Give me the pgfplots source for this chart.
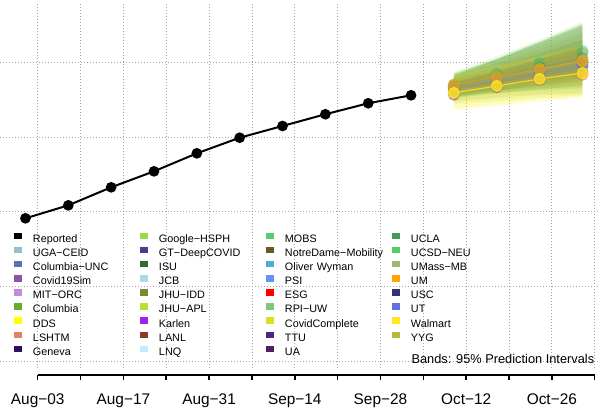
\documentclass[border=0pt]{standalone}
\usepackage{pgfplots}
\pgfplotsset{compat=1.18}
\usepackage{fontspec}
\setmainfont{Liberation Sans}

% model colours
\definecolor{cUGA}{HTML}{96BECD}
\definecolor{cCUNC}{HTML}{5470B0}
\definecolor{cCSim}{HTML}{8B55A5}
\definecolor{cMIT}{HTML}{C08AE0}
\definecolor{cCol}{HTML}{6BAA30}
\definecolor{cDDS}{HTML}{FFFF00}
\definecolor{cLSH}{HTML}{E0826A}
\definecolor{cGen}{HTML}{2A1060}
\definecolor{cGoo}{HTML}{99DD44}
\definecolor{cGT}{HTML}{404099}
\definecolor{cISU}{HTML}{2E6B35}
\definecolor{cJCB}{HTML}{ADD8E6}
\definecolor{cIDD}{HTML}{7A8A30}
\definecolor{cAPL}{HTML}{BBDD33}
\definecolor{cKar}{HTML}{A020F0}
\definecolor{cLANL}{HTML}{8B3A2A}
\definecolor{cLNQ}{HTML}{C0EEFF}
\definecolor{cMOBS}{HTML}{55CC77}
\definecolor{cND}{HTML}{6B5A20}
\definecolor{cOW}{HTML}{4AAED8}
\definecolor{cPSI}{HTML}{6495ED}
\definecolor{cESG}{HTML}{FF0000}
\definecolor{cRPI}{HTML}{7DC87D}
\definecolor{cCC}{HTML}{DDDD22}
\definecolor{cTTU}{HTML}{4A2A80}
\definecolor{cUA}{HTML}{502060}
\definecolor{cUCLA}{HTML}{449955}
\definecolor{cUCSD}{HTML}{55CC66}
\definecolor{cUMB}{HTML}{A0B870}
\definecolor{cUM}{HTML}{FFA500}
\definecolor{cUSC}{HTML}{2F3570}
\definecolor{cUT}{HTML}{6470E0}
\definecolor{cWal}{HTML}{FFE81F}
\definecolor{cYYG}{HTML}{B8B840}

% band = hi forward, lo backward; med = median line
\newcommand{\band}[2]{\addplot[draw=none, fill=#1, fill opacity=0.16, forget plot] coordinates {#2} --cycle;}
\newcommand{\med}[3][0.1]{\addplot[color=#2, line width=1.2pt, opacity=#1, mark=*, mark size=5.5pt, forget plot] coordinates {#3};}

\begin{document}
\begin{tikzpicture}
\useasboundingbox (0,0) rectangle (600pt,410pt);

\begin{axis}[
  at={(0pt,42pt)}, anchor=south west,
  scale only axis, width=600pt, height=364pt,
  xmin=-6.159, xmax=91.87, ymin=-0.0937, ymax=4.779,
  xtick={0,7,...,91}, ytick={0,1,2,3,4},
  xticklabels={}, yticklabels={},
  axis line style={draw=none}, major tick length=0pt,
  grid=major,
  grid style={gray!70, line width=0.7pt, dash pattern=on 0.8pt off 2.2pt},
  legend columns=4,
  legend cell align=left,
  legend image code/.code={\fill[#1, draw=none] (0pt,0.3pt) rectangle (8.3pt,6.8pt);},
  legend style={
    draw=none, fill=none, inner sep=0pt, outer sep=0pt,
    at={(0.02333,0.372)}, anchor=north west,
    font=\fontsize{10.8}{12}\selectfont,
    nodes={inner sep=0pt, text height=7.5pt, text depth=2pt, text width=107pt, align=left},
    row sep=2.6pt,
    /tikz/every odd column/.append style={column sep=10.7pt},
    /tikz/every even column/.append style={column sep=0pt},
  },
]

% reported
\addplot[black, line width=2pt, mark=*, mark size=4.3pt, forget plot] coordinates {
 (-2,1.910) (5,2.084) (12,2.325) (19,2.539) (26,2.780)
 (33,2.989) (40,3.146) (47,3.303) (54,3.450) (61,3.557)};

% forecasts
\band{cUGA}{(68,3.74)(75,3.86)(82,4.00)(89,4.14)(89,3.76)(82,3.70)(75,3.64)(68,3.56)}
\med{cUGA}{(68,3.65)(75,3.75)(82,3.85)(89,3.95)}
\band{cCUNC}{(68,3.72)(75,3.86)(82,4.00)(89,4.14)(89,3.78)(82,3.72)(75,3.66)(68,3.60)}
\med{cCUNC}{(68,3.66)(75,3.78)(82,3.90)(89,4.02)}
\band{cCSim}{(68,3.60)(75,3.72)(82,3.84)(89,3.96)(89,3.76)(82,3.69)(75,3.62)(68,3.54)}
\med[0.45]{cCSim}{(68,3.57)(75,3.67)(82,3.77)(89,3.87)}
\band{cMIT}{(68,3.68)(75,3.81)(82,3.94)(89,4.07)(89,3.81)(82,3.74)(75,3.67)(68,3.60)}
\med{cMIT}{(68,3.64)(75,3.74)(82,3.84)(89,3.94)}
\band{cCol}{(68,3.84)(75,4.04)(82,4.26)(89,4.49)(89,3.66)(82,3.63)(75,3.58)(68,3.52)}
\med{cCol}{(68,3.69)(75,3.82)(82,3.96)(89,4.10)}
\band{cDDS}{(68,3.84)(75,3.98)(82,4.14)(89,4.32)(89,3.54)(82,3.50)(75,3.44)(68,3.38)}
\med{cDDS}{(68,3.62)(75,3.72)(82,3.82)(89,3.92)}
\band{cLSH}{(68,3.66)(75,3.76)(82,3.86)(89,3.96)(89,3.70)(82,3.66)(75,3.62)(68,3.58)}
\med[0.45]{cLSH}{(68,3.62)(75,3.70)(82,3.77)(89,3.83)}
\band{cGen}{(68,3.59)(75,3.70)(82,3.81)(89,3.92)(89,3.78)(82,3.70)(75,3.61)(68,3.53)}
\med{cGen}{(68,3.56)(75,3.66)(82,3.76)(89,3.86)}
\band{cGoo}{(68,3.87)(75,4.08)(82,4.30)(89,4.54)(89,3.80)(82,3.74)(75,3.66)(68,3.58)}
\med{cGoo}{(68,3.71)(75,3.86)(82,4.00)(89,4.12)}
\band{cGT}{(68,3.67)(75,3.79)(82,3.91)(89,4.03)(89,3.83)(82,3.76)(75,3.68)(68,3.61)}
\med{cGT}{(68,3.64)(75,3.74)(82,3.84)(89,3.93)}
\band{cISU}{(68,3.76)(75,3.90)(82,4.04)(89,4.20)(89,3.80)(82,3.73)(75,3.66)(68,3.57)}
\med{cISU}{(68,3.66)(75,3.77)(82,3.88)(89,3.99)}
\band{cIDD}{(68,3.82)(75,3.99)(82,4.18)(89,4.38)(89,3.68)(82,3.64)(75,3.59)(68,3.53)}
\med{cIDD}{(68,3.68)(75,3.80)(82,3.92)(89,4.04)}
\band{cAPL}{(68,3.86)(75,4.03)(82,4.22)(89,4.40)(89,3.56)(82,3.52)(75,3.48)(68,3.44)}
\med{cAPL}{(68,3.65)(75,3.76)(82,3.88)(89,4.00)}
\band{cKar}{(68,3.69)(75,3.81)(82,3.94)(89,4.07)(89,3.84)(82,3.77)(75,3.70)(68,3.63)}
\med{cKar}{(68,3.66)(75,3.76)(82,3.86)(89,3.96)}
\band{cLANL}{(68,3.70)(75,3.84)(82,3.98)(89,4.13)(89,3.87)(82,3.80)(75,3.72)(68,3.64)}
\med{cLANL}{(68,3.67)(75,3.78)(82,3.89)(89,4.00)}
\band{cMOBS}{(68,3.82)(75,4.04)(82,4.26)(89,4.48)(89,3.88)(82,3.80)(75,3.70)(68,3.60)}
\med[0.45]{cMOBS}{(68,3.70)(75,3.85)(82,4.00)(89,4.15)}
\band{cND}{(68,3.82)(75,4.04)(82,4.27)(89,4.50)(89,3.74)(82,3.68)(75,3.62)(68,3.56)}
\med{cND}{(68,3.69)(75,3.83)(82,3.98)(89,4.12)}
\band{cOW}{(68,3.70)(75,3.83)(82,3.96)(89,4.08)(89,3.86)(82,3.78)(75,3.70)(68,3.62)}
\med{cOW}{(68,3.66)(75,3.77)(82,3.87)(89,3.97)}
\band{cPSI}{(68,3.78)(75,3.95)(82,4.12)(89,4.30)(89,3.76)(82,3.70)(75,3.63)(68,3.56)}
\med{cPSI}{(68,3.67)(75,3.79)(82,3.91)(89,4.03)}
\band{cESG}{(68,3.65)(75,3.75)(82,3.84)(89,3.93)(89,3.81)(82,3.75)(75,3.68)(68,3.61)}
\med{cESG}{(68,3.63)(75,3.72)(82,3.80)(89,3.87)}
\band{cRPI}{(68,3.79)(75,3.94)(82,4.10)(89,4.28)(89,3.72)(82,3.68)(75,3.62)(68,3.55)}
\med{cRPI}{(68,3.67)(75,3.78)(82,3.89)(89,4.00)}
\band{cCC}{(68,3.80)(75,3.94)(82,4.09)(89,4.25)(89,3.60)(82,3.57)(75,3.53)(68,3.48)}
\med{cCC}{(68,3.64)(75,3.74)(82,3.84)(89,3.94)}
\band{cUCLA}{(68,3.78)(75,3.94)(82,4.11)(89,4.30)(89,3.68)(82,3.64)(75,3.60)(68,3.55)}
\med{cUCLA}{(68,3.66)(75,3.76)(82,3.86)(89,3.96)}
\band{cUCSD}{(68,3.85)(75,4.05)(82,4.28)(89,4.52)(89,3.64)(82,3.62)(75,3.58)(68,3.52)}
\med{cUCSD}{(68,3.68)(75,3.81)(82,3.94)(89,4.06)}
\band{cUMB}{(68,3.84)(75,4.03)(82,4.24)(89,4.45)(89,3.58)(82,3.56)(75,3.52)(68,3.47)}
\med{cUMB}{(68,3.67)(75,3.79)(82,3.91)(89,4.03)}
\band{cUM}{(68,3.80)(75,3.95)(82,4.11)(89,4.28)(89,3.74)(82,3.70)(75,3.65)(68,3.59)}
\band{cUSC}{(68,3.73)(75,3.88)(82,4.04)(89,4.20)(89,3.90)(82,3.81)(75,3.72)(68,3.63)}
\med{cUSC}{(68,3.68)(75,3.80)(82,3.93)(89,4.06)}
\band{cUT}{(68,3.70)(75,3.82)(82,3.94)(89,4.06)(89,3.84)(82,3.77)(75,3.70)(68,3.62)}
\med[0.45]{cUT}{(68,3.66)(75,3.76)(82,3.86)(89,3.95)}
\band{cWal}{(68,3.82)(75,3.95)(82,4.08)(89,4.20)(89,3.53)(82,3.47)(75,3.41)(68,3.36)}
\band{cYYG}{(68,3.74)(75,3.89)(82,4.05)(89,4.22)(89,3.78)(82,3.72)(75,3.66)(68,3.58)}
\med[0.3]{cYYG}{(68,3.66)(75,3.77)(82,3.89)(89,4.01)}
% the two medians that stand out on top
\med[0.55]{cUM}{(68,3.695)(75,3.802)(82,3.909)(89,4.016)}
\med[0.8]{cWal}{(68,3.588)(75,3.681)(82,3.775)(89,3.855)}

% legend, row by row (read column-wise in the picture)
\addlegendimage{fill=black}\addlegendentry{Reported}
\addlegendimage{fill=cGoo}\addlegendentry{Google−HSPH}
\addlegendimage{fill=cMOBS}\addlegendentry{MOBS}
\addlegendimage{fill=cUCLA}\addlegendentry{UCLA}
\addlegendimage{fill=cUGA}\addlegendentry{UGA−CEID}
\addlegendimage{fill=cGT}\addlegendentry{GT−DeepCOVID}
\addlegendimage{fill=cND}\addlegendentry{NotreDame−Mobility}
\addlegendimage{fill=cUCSD}\addlegendentry{UCSD−NEU}
\addlegendimage{fill=cCUNC}\addlegendentry{Columbia−UNC}
\addlegendimage{fill=cISU}\addlegendentry{ISU}
\addlegendimage{fill=cOW}\addlegendentry{Oliver Wyman}
\addlegendimage{fill=cUMB}\addlegendentry{UMass−MB}
\addlegendimage{fill=cCSim}\addlegendentry{Covid19Sim}
\addlegendimage{fill=cJCB}\addlegendentry{JCB}
\addlegendimage{fill=cPSI}\addlegendentry{PSI}
\addlegendimage{fill=cUM}\addlegendentry{UM}
\addlegendimage{fill=cMIT}\addlegendentry{MIT−ORC}
\addlegendimage{fill=cIDD}\addlegendentry{JHU−IDD}
\addlegendimage{fill=cESG}\addlegendentry{ESG}
\addlegendimage{fill=cUSC}\addlegendentry{USC}
\addlegendimage{fill=cCol}\addlegendentry{Columbia}
\addlegendimage{fill=cAPL}\addlegendentry{JHU−APL}
\addlegendimage{fill=cRPI}\addlegendentry{RPI−UW}
\addlegendimage{fill=cUT}\addlegendentry{UT}
\addlegendimage{fill=cDDS}\addlegendentry{DDS}
\addlegendimage{fill=cKar}\addlegendentry{Karlen}
\addlegendimage{fill=cCC}\addlegendentry{CovidComplete}
\addlegendimage{fill=cWal}\addlegendentry{Walmart}
\addlegendimage{fill=cLSH}\addlegendentry{LSHTM}
\addlegendimage{fill=cLANL}\addlegendentry{LANL}
\addlegendimage{fill=cTTU}\addlegendentry{TTU}
\addlegendimage{fill=cYYG}\addlegendentry{YYG}
\addlegendimage{fill=cGen}\addlegendentry{Geneva}
\addlegendimage{fill=cLNQ}\addlegendentry{LNQ}
\addlegendimage{fill=cUA}\addlegendentry{UA}

\node[anchor=base east, font=\fontsize{12.8}{14}\selectfont]
  at (rel axis cs:0.9962,0.011) {Bands: 95\% Prediction Intervals};
\end{axis}

% x axis drawn R-style, from first to last tick
\begin{axis}[
  at={(37.7pt,35pt)}, anchor=south west,
  scale only axis, width=557pt, height=10pt,
  xmin=0, xmax=91, ymin=0, ymax=1,
  axis x line=bottom, axis y line=none,
  axis line style={-, line width=1.6pt},
  xtick={0,7,...,91},
  xticklabels={Aug−03,,Aug−17,,Aug−31,,Sep−14,,Sep−28,,Oct−12,,Oct−26,},
  tick align=outside, major tick length=4.5pt,
  tick style={line width=1.6pt, black},
  xticklabel style={font=\fontsize{15.4}{17}\selectfont, inner sep=0pt, anchor=base, yshift=-25pt},
  xticklabel shift=0pt,
]
\end{axis}
\end{tikzpicture}
\end{document}
